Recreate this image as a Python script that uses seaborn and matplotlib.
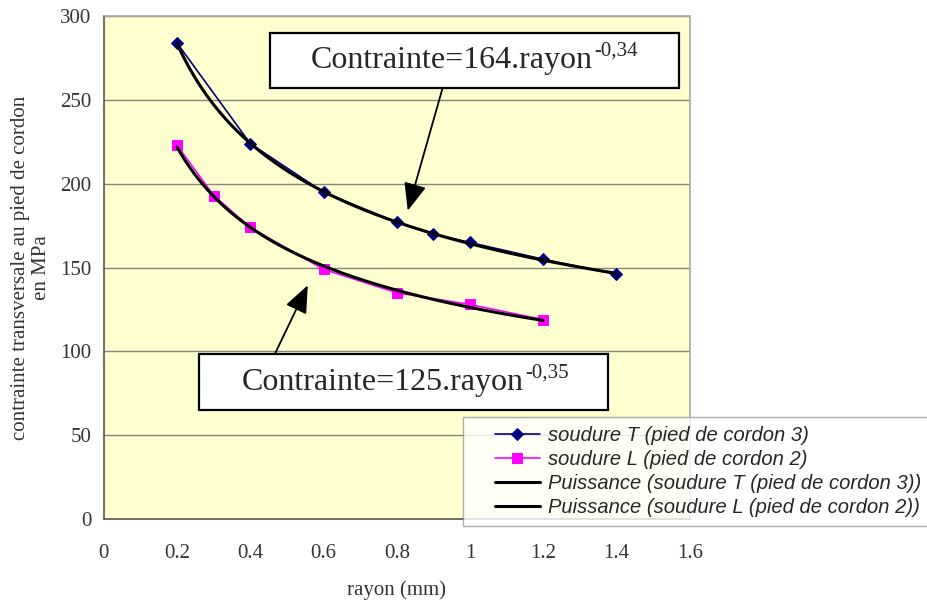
import numpy as np
import pandas as pd
import seaborn as sns
import matplotlib.pyplot as plt
from matplotlib.lines import Line2D
from matplotlib.patches import Rectangle
from matplotlib.legend_handler import HandlerLine2D

# valeurs
rayon_T = [0.2, 0.4, 0.6, 0.8, 0.9, 1.0, 1.2, 1.4]
contrainte_T = [284, 224, 195, 177, 170, 165, 155, 146]
rayon_L = [0.2, 0.3, 0.4, 0.6, 0.8, 1.0, 1.2]
contrainte_L = [223, 193, 174, 149, 135, 128, 119]

label_T = "soudure T (pied de cordon 3)"
label_L = "soudure L (pied de cordon 2)"
label_fit_T = "Puissance (soudure T (pied de cordon 3))"
label_fit_L = "Puissance (soudure L (pied de cordon 2))"

eq_T, exp_T = "Contrainte=164.rayon", "-0,34"
eq_L, exp_L = "Contrainte=125.rayon", "-0,35"

sns.set_style("white")
plt.rcParams['font.family'] = ['Liberation Serif', 'DejaVu Serif']

fig = plt.figure(figsize=(9.27, 6.01), dpi=100)
ax = fig.add_axes([0.112, 0.1364, 0.632, 0.8366])
ax.set_facecolor("#FFFFD0")

df_T = pd.DataFrame({"rayon": rayon_T, "contrainte": contrainte_T})
df_L = pd.DataFrame({"rayon": rayon_L, "contrainte": contrainte_L})


def power_fit(x, y):
    # tendance "puissance" façon Excel : y = a * x^b
    b, loga = np.polyfit(np.log(x), np.log(y), 1)
    xs = np.linspace(min(x), max(x), 200)
    return pd.DataFrame({"rayon": xs, "contrainte": np.exp(loga) * xs ** b})


ax.yaxis.grid(True, color="#85857A", linewidth=1.0)
ax.set_axisbelow(True)

sns.lineplot(data=df_T, x="rayon", y="contrainte", ax=ax, color="#000080",
             marker="D", markersize=6, linewidth=1.2, markeredgecolor="#000080",
             label=label_T, zorder=3)
sns.lineplot(data=df_L, x="rayon", y="contrainte", ax=ax, color="#FF00FF",
             marker="s", markersize=7, linewidth=1.2, markeredgecolor="#FF00FF",
             label=label_L, zorder=3)
sns.lineplot(data=power_fit(rayon_T, contrainte_T), x="rayon", y="contrainte",
             ax=ax, color="black", linewidth=2.2, label=label_fit_T, zorder=4)
sns.lineplot(data=power_fit(rayon_L, contrainte_L), x="rayon", y="contrainte",
             ax=ax, color="black", linewidth=2.2, label=label_fit_L, zorder=4)

ax.set_xlim(0, 1.6)
ax.set_ylim(0, 300)
ax.set_xticks(np.arange(0, 1.61, 0.2))
ax.set_xticklabels(["0", "0.2", "0.4", "0.6", "0.8", "1", "1.2", "1.4", "1.6"])
ax.set_yticks(range(0, 301, 50))
ax.tick_params(axis="both", direction="out", length=6, width=1,
               colors="#555555", labelsize=15, labelcolor="#333333")
ax.tick_params(axis="x", pad=12)
ax.tick_params(axis="y", pad=3)

for side in ["left", "bottom"]:
    ax.spines[side].set_color("#555555")
    ax.spines[side].set_linewidth(1.2)
for side in ["top", "right"]:
    ax.spines[side].set_color("#A8A8A0")
    ax.spines[side].set_linewidth(1.2)

ax.set_xlabel("rayon (mm)", fontsize=15, color="#333333", va="center")
ax.xaxis.set_label_coords(0.5, -0.141)
ax.set_ylabel("contrainte transversale au pied de cordon\nen MPa", fontsize=15,
              color="#333333", va="center", linespacing=1.1)
ax.yaxis.set_label_coords(-0.1246, 0.5)

# équations encadrées avec flèches
arrow = dict(arrowstyle="-|>,head_length=1.7,head_width=0.7",
             color="black", linewidth=1.3, shrinkA=0, shrinkB=0)
ax.annotate("", xy=(0.83, 184), xytext=(0.925, 257),
            arrowprops=arrow, zorder=5)
ax.annotate("", xy=(0.557, 139.5), xytext=(0.467, 98.4),
            arrowprops=arrow, zorder=5)

for (x0, y0, x1, y1), tx, ty, eq, ex in [
        ((0.453, 257.1, 1.570, 289.9), 0.565, 273.5, eq_T, exp_T),
        ((0.259, 65.0, 1.376, 98.4), 0.377, 81.5, eq_L, exp_L)]:
    ax.add_patch(Rectangle((x0, y0), x1 - x0, y1 - y0, facecolor="white",
                           edgecolor="black", linewidth=1.6, zorder=6))
    t = ax.text(tx, ty, eq, fontsize=23, ha="left", va="center", zorder=7)
    ax.annotate(ex, xy=(1, 1), xycoords=t, xytext=(1, 3),
                textcoords="offset points", fontsize=15, ha="left", va="top",
                zorder=7)

# légende qui déborde de la zone de tracé
ax.get_legend().remove()
handles, labels = ax.get_legend_handles_labels()
leg = fig.legend(handles, labels, loc="upper left", bbox_to_anchor=(0.4995, 0.306),
                 frameon=True, fancybox=False, borderpad=0.42, labelspacing=0.26,
                 handlelength=3.4, handletextpad=0.4, borderaxespad=0,
                 handler_map={Line2D: HandlerLine2D(xpad=1.15)},
                 prop={"family": "Liberation Sans", "style": "italic", "size": 14.5})
leg.get_frame().set_edgecolor("#999999")
leg.get_frame().set_linewidth(1.0)
leg.set_zorder(10)

fig.savefig("out.png", dpi=100, facecolor="white")
